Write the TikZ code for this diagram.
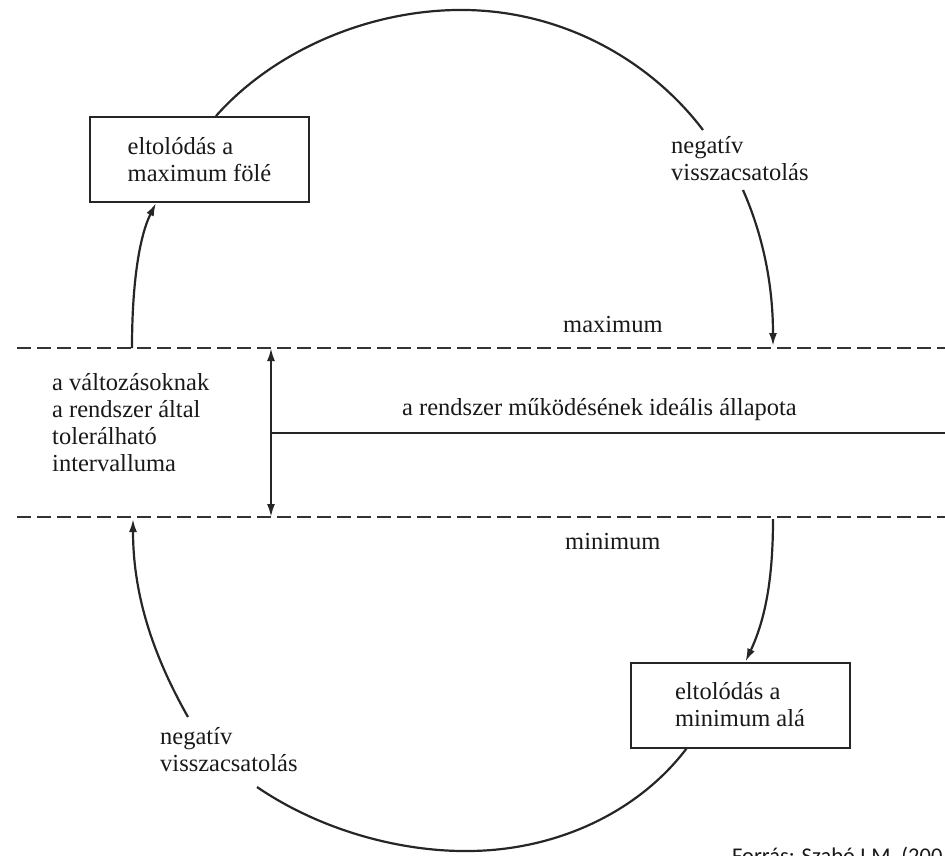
\documentclass[tikz,border=0pt]{standalone}
\usepackage{fontspec}
\setmainfont{Liberation Serif}
\newfontfamily\srcfont{Carlito}
\usetikzlibrary{arrows.meta}
\begin{document}
\begin{tikzpicture}[x=1pt,y=-1pt,
  txt/.style={font=\fontsize{24.5}{27}\selectfont, inner sep=0pt, align=left, text=black!90},
  boxnode/.style={draw=black!85, line width=2pt, minimum width=219pt, minimum height=85pt,
    inner sep=0pt, align=left, font=\fontsize{24.5}{27}\selectfont, text=black!90},
  curve/.style={line width=2.2pt, draw=black!85},
  arr/.style={curve, -{Latex[length=13pt,width=8pt]}},
  dbl/.style={curve, {Latex[length=13pt,width=8pt]}-{Latex[length=13pt,width=8pt]}},
  dline/.style={line width=1.8pt, dash pattern=on 14pt off 6pt, draw=black!80}]
\useasboundingbox (0,0) rectangle (945,855);

% boxes
\node[boxnode] (b1) at (199.5,159.5) {eltolódás a\\maximum fölé};
\node[boxnode] (b2) at (740,705) {eltolódás a\\minimum alá};

% coordinates
\coordinate (topL) at (17,348);
\coordinate (topR) at (945,348);
\coordinate (botL) at (17,517);
\coordinate (botR) at (945,517);
\coordinate (vTop) at (271,348);
\coordinate (vBot) at (271,517);
\coordinate (vMid) at (271,433);
\coordinate (hEnd) at (945,433);
\coordinate (a1s) at (132,348);
\coordinate (a2s) at (743,190);
\coordinate (a2e) at (773,346);
\coordinate (a3s) at (773,519);
\coordinate (a4s) at (188,717);
\coordinate (a4e) at (133,519);
\coordinate (arcTop) at (703,130);
\coordinate (arcBot) at (257,787);

% dashed limits
\draw[dline] (topL) -- (topR);
\draw[dline] (botL) -- (botR);

% tolerance interval and ideal state line
\draw[dbl] (vTop) -- (vBot);
\draw[curve] (vMid) -- (hEnd);

% top arc
\draw[curve] ([xshift=127pt]b1.north west) .. controls (270,55) and (360,12) .. (455,10)
  .. controls (560,8) and (650,60) .. (arcTop);
% right top arrow
\draw[arr] (a2s) .. controls (765,240) and (773,290) .. (a2e);
% left top arrow
\draw[arr] (a1s) .. controls (132,280) and (140,235) .. ([xshift=67pt]b1.south west);
% right bottom arrow
\draw[arr] (a3s) .. controls (773,580) and (765,620) .. ([xshift=116pt]b2.north west);
% left bottom arrow
\draw[arr] (a4s) .. controls (150,650) and (133,590) .. (a4e);
% bottom arc
\draw[curve] (arcBot) .. controls (320,830) and (400,852) .. (470,851)
  .. controls (560,850) and (640,810) .. ([xshift=57pt]b2.south west);

% labels
\node[txt, anchor=west] (nf1) at (671,159) {negatív\\visszacsatolás};
\node[txt, anchor=west] (nf2) at (160,750) {negatív\\visszacsatolás};
\node[txt, anchor=west] (mx) at (563,325) {maximum};
\node[txt, anchor=west] (mn) at (565,541) {minimum};
\node[txt, anchor=west] (ideal) at (402,410) {a rendszer működésének ideális állapota};
\node[txt, anchor=west] (tol) at (52,423) {a változásoknak\\a rendszer által\\tolerálható\\intervalluma};
\node[anchor=north west, inner sep=0pt, font=\srcfont\fontsize{22.5}{26}\selectfont, text=black!90] (src) at (732,847) {Forrás: Szabó I.M. (200};
\end{tikzpicture}
\end{document}
